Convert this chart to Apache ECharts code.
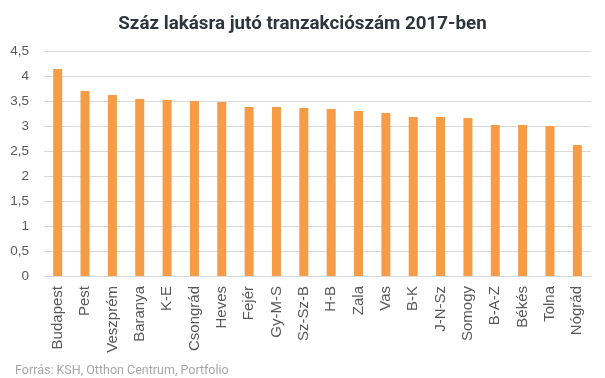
<!DOCTYPE html>
<html><head><meta charset="utf-8">
<script src="https://cdn.jsdelivr.net/npm/echarts@6/dist/echarts.min.js"></script>
<style>html,body{margin:0;padding:0;background:#fff}#c{width:605px;height:378px}</style>
</head><body><div id="c"></div>
<script>
const categories = ['Budapest','Pest','Veszprém','Baranya','K-E','Csongrád','Heves','Fejér','Gy-M-S','Sz-Sz-B','H-B','Zala','Vas','B-K','J-N-Sz','Somogy','B-A-Z','Békés','Tolna','Nógrád'];
const values = [4.14,3.70,3.62,3.54,3.52,3.50,3.48,3.38,3.38,3.36,3.34,3.30,3.26,3.18,3.18,3.16,3.02,3.02,3.00,2.62];
const titleText = 'Száz lakásra jutó tranzakciószám 2017-ben';
const sourceText = 'Forrás: KSH, Otthon Centrum, Portfolio';

const chart = echarts.init(document.getElementById('c'), null, {renderer:'canvas'});
chart.setOption({
  animation:false,
  title:[{text:titleText,left:'center',top:10,textStyle:{fontFamily:'Roboto',fontWeight:'bold',fontSize:18.8,color:'#30343d'}},
         {text:sourceText,left:10,top:359,textStyle:{fontFamily:'Roboto',fontWeight:'normal',fontSize:12.5,color:'#a6a6a6'}}],
  grid:{left:44,right:14,top:51,bottom:102},
  xAxis:{type:'category',data:categories,
    axisLine:{lineStyle:{color:'#d9d9d9',width:1}},axisTick:{show:false},
    axisLabel:{rotate:90,interval:0,margin:10,fontFamily:'Liberation Sans',fontSize:15,color:'#595959'}},
  yAxis:{type:'value',min:0,max:4.5,interval:0.5,
    splitLine:{lineStyle:{color:'#d9d9d9',width:1}},
    axisLine:{show:false},axisTick:{show:false},
    axisLabel:{margin:15,fontFamily:'Liberation Sans',fontSize:13.5,color:'#595959',formatter:v=>String(v).replace('.',',')}},
  series:[{type:'bar',data:values,barWidth:9,itemStyle:{color:'#f79c46'}}]
});
</script></body></html>
